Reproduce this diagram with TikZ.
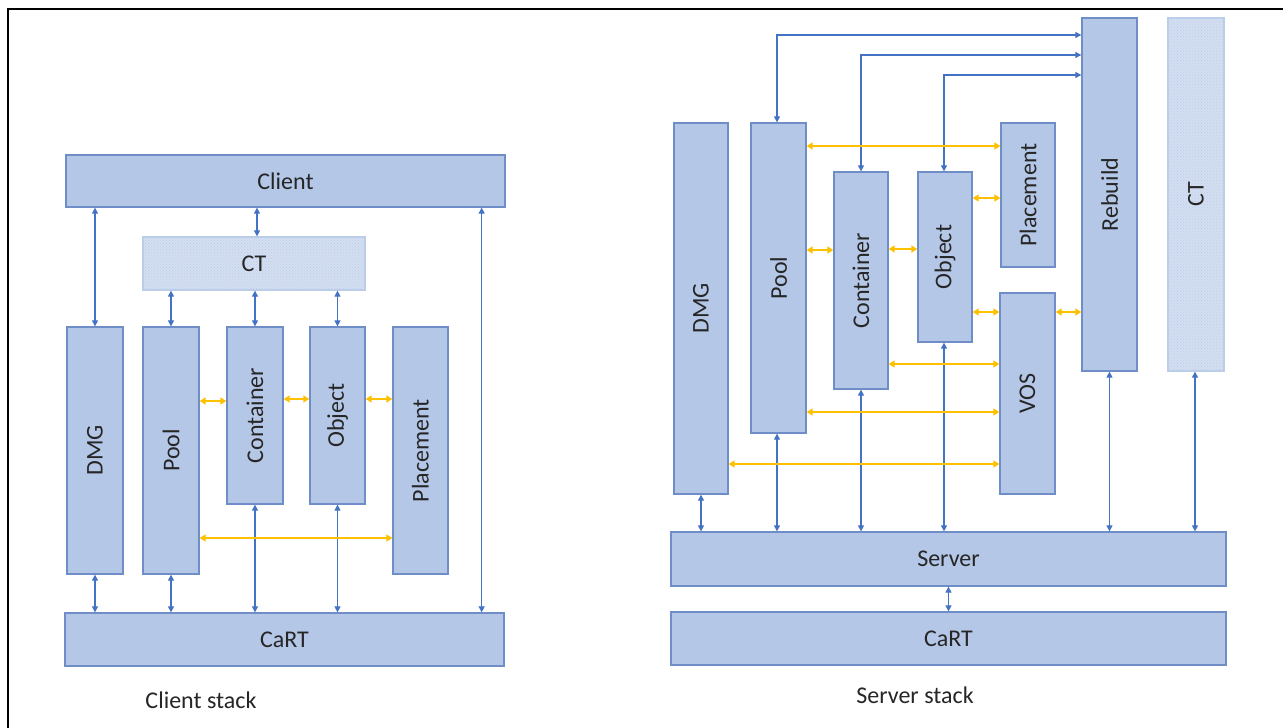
\documentclass[tikz,border=0pt]{standalone}
\usepackage{fontspec}
\setmainfont{Carlito}
\usetikzlibrary{arrows.meta,patterns}
\definecolor{boxfill}{HTML}{B4C7E7}
\definecolor{boxline}{HTML}{6F8DC6}
\definecolor{ctfill}{HTML}{D3DEF1}
\definecolor{ctline}{HTML}{BCCDEA}
\definecolor{ctdot}{HTML}{BCCDEB}
\definecolor{barrow}{HTML}{4472C4}
\definecolor{oarrow}{HTML}{FFC000}
\definecolor{txt}{HTML}{262626}
\tikzset{
  blk/.style={draw=boxline, fill=boxfill, line width=1.3pt, inner sep=0pt,
    font=\fontsize{24}{28}\selectfont, text=txt},
  ctbox/.style={draw=ctline, line width=1.3pt, inner sep=0pt,
    preaction={fill=ctfill}, pattern=crosshatch dots, pattern color=ctdot,
    font=\fontsize{24}{28}\selectfont, text=txt},
  barr/.style={draw=barrow, line width=1.2pt,
    {Triangle[length=6pt,width=6pt]}-{Triangle[length=6pt,width=6pt]}},
  oarr/.style={draw=oarrow, line width=2pt,
    {Triangle[length=6pt,width=7pt]}-{Triangle[length=6pt,width=7pt]}},
  stacklabel/.style={font=\fontsize{24}{28}\selectfont, text=txt},
}
\begin{document}
\begin{tikzpicture}[x=1pt,y=-1pt]
\useasboundingbox (0,0) rectangle (1283,728);
\fill[white] (0,0) rectangle (1283,728);
\draw[line width=2.4pt, line join=miter] (8,745) -- (8,9) -- (1300,9);

% ---------------- Client stack ----------------
\node[blk, minimum width=439pt, minimum height=52pt] (client) at (285.5,181) {Client};
\node[ctbox, minimum width=222pt, minimum height=53pt] (ctc) at (254,263.5) {CT};
\node[blk, minimum width=56pt, minimum height=247pt] (dmgc) at (95,450.5) {\rotatebox{90}{DMG}};
\node[blk, minimum width=56pt, minimum height=247pt] (poolc) at (171,450.5) {\rotatebox{90}{Pool}};
\node[blk, minimum width=56pt, minimum height=177pt] (contc) at (255,415.5) {\rotatebox{90}{Container}};
\node[blk, minimum width=55pt, minimum height=177pt] (objc) at (337.5,415.5) {\rotatebox{90}{Object}};
\node[blk, minimum width=55pt, minimum height=247pt] (placec) at (420.5,450.5) {\rotatebox{90}{Placement}};
\node[blk, minimum width=439pt, minimum height=53pt] (cartc) at (284.5,639.5) {CaRT};
\node[stacklabel] (clientlbl) at (201,700) {Client stack};

\draw[barr] (dmgc.north |- client.south) -- (dmgc.north);
\draw[barr] ([xshift=3pt]ctc.north |- client.south) -- ([xshift=3pt]ctc.north);
\draw[barr] (poolc.north |- ctc.south) -- (poolc.north);
\draw[barr] (contc.north |- ctc.south) -- (contc.north);
\draw[barr] (objc.north |- ctc.south) -- (objc.north);
\draw[barr] ([xshift=-24pt]client.south east) -- ([xshift=-23pt]cartc.north east);
\draw[barr] (dmgc.south) -- (dmgc.south |- cartc.north);
\draw[barr] (poolc.south) -- (poolc.south |- cartc.north);
\draw[barr] (contc.south) -- (contc.south |- cartc.north);
\draw[barr] (objc.south) -- (objc.south |- cartc.north);

\draw[oarr] (poolc.east |- 0,401) -- (contc.west |- 0,401);
\draw[oarr] (contc.east |- 0,399) -- (objc.west |- 0,399);
\draw[oarr] (objc.east |- 0,399) -- (placec.west |- 0,399);
\draw[oarr] (poolc.east |- 0,538) -- (placec.west |- 0,538);

% ---------------- Server stack ----------------
\node[blk, minimum width=54pt, minimum height=371pt] (dmgs) at (701,308.5) {\rotatebox{90}{DMG}};
\node[blk, minimum width=55pt, minimum height=310pt] (pools) at (778.5,278) {\rotatebox{90}{Pool}};
\node[blk, minimum width=54pt, minimum height=217pt] (conts) at (861,280.5) {\rotatebox{90}{Container}};
\node[blk, minimum width=54pt, minimum height=170pt] (objs) at (945,257) {\rotatebox{90}{Object}};
\node[blk, minimum width=54pt, minimum height=144pt] (places) at (1028,195) {\rotatebox{90}{Placement}};
\node[blk, minimum width=55pt, minimum height=201pt] (vos) at (1027.5,393.5) {\rotatebox{90}{VOS}};
\node[blk, minimum width=55pt, minimum height=353pt] (rebuild) at (1109.5,194.5) {\rotatebox{90}{Rebuild}};
\node[ctbox, minimum width=56pt, minimum height=353pt] (cts) at (1196,194.5) {\rotatebox{90}{CT}};
\node[blk, minimum width=555pt, minimum height=54pt] (server) at (948.5,559) {Server};
\node[blk, minimum width=555pt, minimum height=53pt] (carts) at (948.5,638.5) {CaRT};
\node[stacklabel] (serverlbl) at (915,695) {Server stack};

\draw[barr] ([xshift=-1.5pt]pools.north) |- (rebuild.west |- 0,35);
\draw[barr] (conts.north) |- (rebuild.west |- 0,55);
\draw[barr] ([xshift=-1pt]objs.north) |- (rebuild.west |- 0,75);
\draw[barr] (dmgs.south) -- (dmgs.south |- server.north);
\draw[barr] ([xshift=-1.5pt]pools.south) -- ([xshift=-1.5pt]pools.south |- server.north);
\draw[barr] (conts.south) -- (conts.south |- server.north);
\draw[barr] ([xshift=-1pt]objs.south) -- ([xshift=-1pt]objs.south |- server.north);
\draw[barr] (rebuild.south) -- (rebuild.south |- server.north);
\draw[barr] ([xshift=-1pt]cts.south) -- ([xshift=-1pt]cts.south |- server.north);
\draw[barr] (server.south) -- (carts.north);

\draw[oarr] (pools.east |- 0,146) -- (places.west |- 0,146);
\draw[oarr] (pools.east |- 0,250) -- (conts.west |- 0,250);
\draw[oarr] (conts.east |- 0,249) -- (objs.west |- 0,249);
\draw[oarr] (objs.east |- 0,198) -- (places.west |- 0,198);
\draw[oarr] (objs.east |- 0,312) -- (vos.west |- 0,312);
\draw[oarr] (vos.east |- 0,312) -- (rebuild.west |- 0,312);
\draw[oarr] (conts.east |- 0,364) -- (vos.west |- 0,364);
\draw[oarr] (pools.east |- 0,412) -- (vos.west |- 0,412);
\draw[oarr] (dmgs.east |- 0,464) -- (vos.west |- 0,464);
\end{tikzpicture}
\end{document}
